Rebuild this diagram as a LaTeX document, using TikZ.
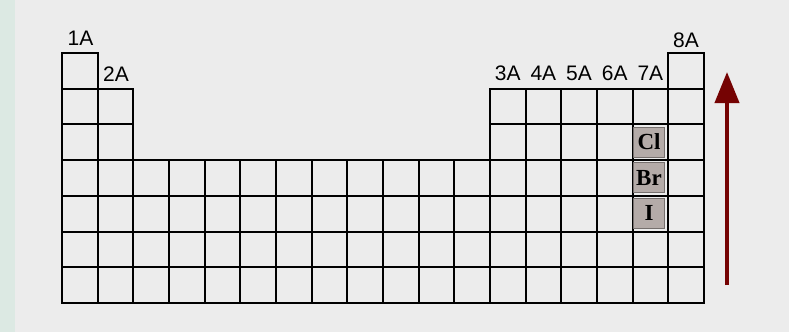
\documentclass[tikz,border=0pt]{standalone}
\usepackage{fontspec}
\setmainfont{Liberation Serif}
\newfontfamily\labfont{Liberation Sans}
\usetikzlibrary{arrows.meta}
\definecolor{bggray}{HTML}{ECECEC}
\definecolor{leftstrip}{HTML}{DCE9E3}
\definecolor{elemfill}{HTML}{B4ABA8}
\definecolor{arrowred}{HTML}{750303}
\tikzset{
  cell/.style={draw=black, line width=2pt},
  grp/.style={font=\labfont\fontsize{21}{21}\selectfont, inner sep=0pt},
  elem/.style={fill=elemfill, draw=elemfill!65!black, line width=1pt,
    minimum width=31pt, minimum height=30pt, inner sep=0pt,
    font=\bfseries\fontsize{23}{23}\selectfont},
  trend/.style={draw=arrowred, line width=4pt, -{Triangle[length=31pt,width=24pt]}}
}
\begin{document}
\begin{tikzpicture}[x=1pt,y=-1pt]
\useasboundingbox (0,0) rectangle (805,332);
\fill[white] (0,0) rectangle (805,332);
\fill[leftstrip] (0,0) rectangle (15,332);
\fill[bggray] (15,0) rectangle (789,332);
\def\cw{35.67}
\def\rh{35.71}
\foreach \c/\rs in {1/1,2/2,3/4,4/4,5/4,6/4,7/4,8/4,9/4,10/4,11/4,12/4,13/2,14/2,15/2,16/2,17/2,18/1}{
  \foreach \r in {\rs,...,7}{
    \draw[cell] ({62+(\c-1)*\cw},{53+(\r-1)*\rh}) rectangle ++(\cw,\rh);
  }
}
\node[grp] (g1) at (80.5,38.5) {1A};
\node[grp] (g2) at (116,74.5) {2A};
\node[grp] (g3) at (507.7,73.5) {3A};
\node[grp] (g4) at (543.4,73.5) {4A};
\node[grp] (g5) at (579.0,73.5) {5A};
\node[grp] (g6) at (614.7,73.5) {6A};
\node[grp] (g7) at (650.4,73.5) {7A};
\node[grp] (g8) at (686,40) {8A};
\node[elem] (cl) at (649,142) {Cl};
\node[elem] (br) at (649,177.6) {Br};
\node[elem] (io) at (649,213.2) {I};
\coordinate (atail) at (727,285);
\coordinate (ahead) at (727,72);
\draw[trend] (atail) -- (ahead);
\end{tikzpicture}
\end{document}
